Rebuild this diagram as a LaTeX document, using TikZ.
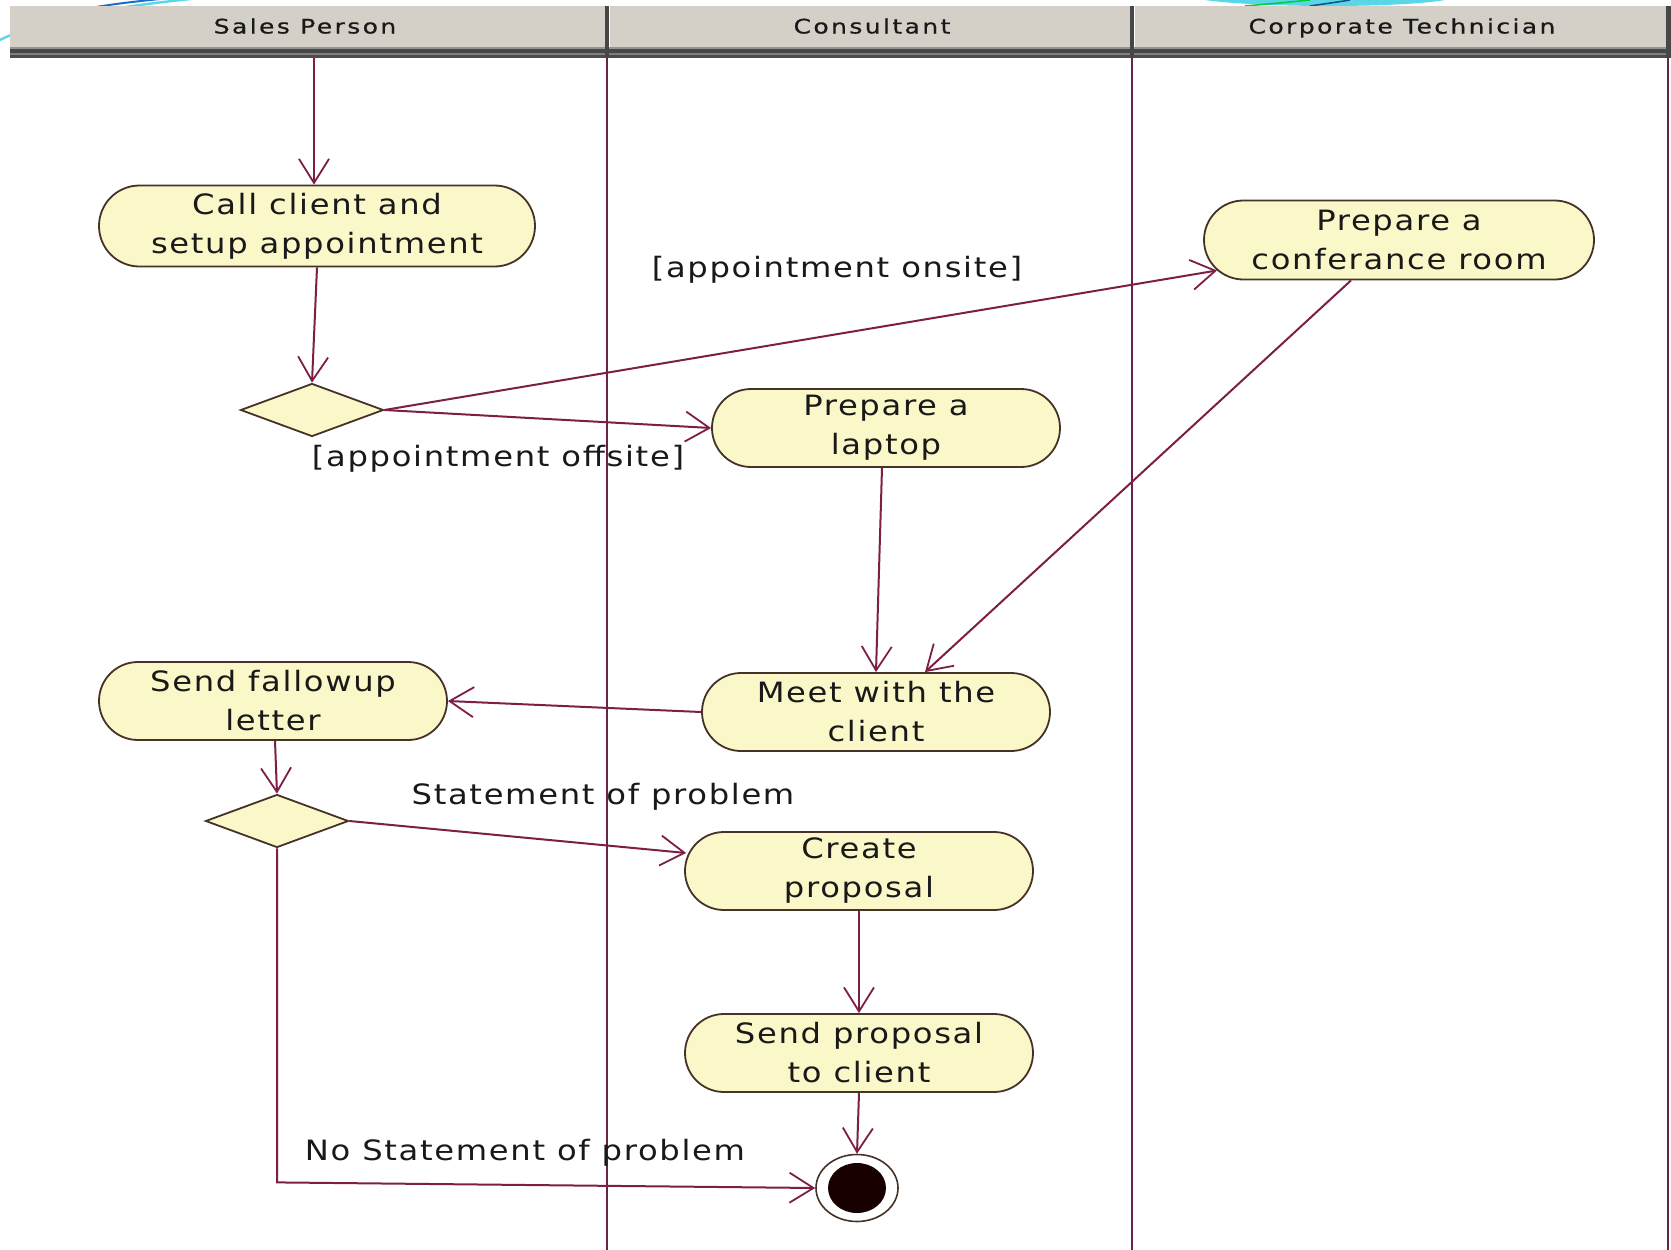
\documentclass[tikz,border=0pt]{standalone}
\usepackage{fontspec}
\usetikzlibrary{shapes.misc,shapes.geometric,arrows.meta,calc}
\newfontfamily\actfont{DejaVu Sans}[FakeStretch=1.15,LetterSpace=6]
\newfontfamily\lanefont{DejaVu Sans}[FakeStretch=1.25,LetterSpace=12,FakeBold=0.6]
\definecolor{lanecol}{RGB}{105,35,70}
\definecolor{flowcol}{RGB}{125,30,70}
\definecolor{nodeedge}{RGB}{70,50,40}
\definecolor{actfill}{RGB}{250,248,200}
\definecolor{textcol}{RGB}{25,25,25}
\definecolor{headgray}{RGB}{212,208,200}
\definecolor{decocyan}{RGB}{90,215,230}
\definecolor{decoblue}{RGB}{30,110,200}
\begin{document}
\begin{tikzpicture}[x=1pt,y=-1pt,
  activity/.style={rounded rectangle, draw=nodeedge, line width=1.8pt, fill=actfill,
    minimum width=348pt, minimum height=78pt, inner sep=0pt, align=center,
    font=\actfont\fontsize{28}{39}\selectfont, text=textcol},
  decision/.style={diamond, draw=nodeedge, line width=1.8pt, fill=actfill,
    minimum width=143pt, minimum height=53pt, inner sep=0pt},
  flow/.style={draw=flowcol, line width=2pt,
    -{Straight Barb[length=24pt,width=30pt,line width=1.8pt]}},
  guard/.style={font=\actfont\fontsize{28}{39}\selectfont, text=textcol, inner sep=0pt},
  lane/.style={draw=lanecol, line width=2.4pt},
  lanetitle/.style={font=\lanefont\fontsize{20}{24}\selectfont, text=textcol, inner sep=0pt,
    text height=15pt, text depth=4pt}]

\useasboundingbox (0,0) rectangle (1671,1250);
\fill[white] (0,0) rectangle (1671,1250);

% background swooshes behind the header
\draw[decocyan, line width=2.4pt] (0,40) .. controls (30,25) and (80,10) .. (200,-2);
\draw[decoblue, line width=2pt] (80,10) .. controls (105,5) and (130,2) .. (160,-1);
\fill[decocyan] (1205,0) .. controls (1260,8) and (1400,8) .. (1445,0) -- cycle;
\draw[green!60!teal, line width=1.5pt] (1245,6) .. controls (1280,3) and (1300,1) .. (1310,0);
\draw[decoblue!70!black, line width=1.5pt] (1310,6) .. controls (1330,3) and (1345,1) .. (1350,0);

% swimlane header
\fill[headgray] (10,6) rectangle (1671,47);
\fill[black!42] (10,47) rectangle (1671,49);
\fill[black!72] (10,49) rectangle (1671,53);
\fill[black!50] (10,53) rectangle (1671,55);
\fill[black!70] (10,55) rectangle (1671,58);
\foreach \xx in {607,1132} {
  \fill[black!72] (\xx-2.5,6) rectangle (\xx+1.5,58);
  \fill[white] (\xx+1.5,6) rectangle (\xx+3,47);
}
\fill[black!72] (1666,6) rectangle (1671,58);

\node[lanetitle] (t1) at (305,28) {Sales Person};
\node[lanetitle] (t2) at (872,28) {Consultant};
\node[lanetitle] (t3) at (1402,28) {Corporate Technician};

% lane separators
\draw[lane] (607,58) -- (607,1250);
\draw[lane] (1132,58) -- (1132,1250);
\draw[lane] (1668,58) -- (1668,1250);

% activities
\node[activity, minimum width=436pt, minimum height=81pt] (call) at (317,226) {Call client and\\setup appointment};
\node[decision] (d1) at (312,410) {};
\node[activity, minimum width=390pt, minimum height=79pt] (room) at (1399,240) {Prepare a\\conferance room};
\node[activity] (laptop) at (886,428) {Prepare a\\laptop};
\node[activity] (meet) at (876,712) {Meet with the\\client};
\node[activity] (letter) at (273,701) {Send fallowup\\letter};
\node[decision] (d2) at (277,821) {};
\node[activity] (create) at (859,871) {Create\\proposal};
\node[activity] (send) at (859,1053) {Send proposal\\to client};

% final state
\node[ellipse, draw=nodeedge, line width=1.6pt, fill=white, minimum width=82pt, minimum height=67pt, inner sep=0pt] (fin) at (857,1188) {};
\fill[black!90!red] (fin.center) ellipse [x radius=29, y radius=25];

\coordinate (start) at (314,58);

% control flows
\draw[flow] (start) -- (start |- call.north);
\draw[flow] (call.south) -- (d1.north);
\draw[flow] (d1.east) -- (room);
\draw[flow] (d1.east) -- (laptop.west);
\draw[flow] ($(room.south)+(-48,0)$) -- ($(meet.north)+(49,0)$);
\draw[flow] ($(laptop.south)+(-4,0)$) -- (meet.north);
\draw[flow] (meet.west) -- (letter.east);
\draw[flow] ($(letter.south)+(2,0)$) -- (d2.north);
\draw[flow] (d2.east) -- ($(create.west)+(2,-18)$);
\draw[flow] (d2.south) -- ++(0,334) -- (fin.west);
\draw[flow] (create.south) -- (send.north);
\draw[flow] (send.south) -- (fin.north);

% guards
\node[guard] (g1) at (837,270) {[appointment onsite]};
\node[guard] (g2) at (498,459) {[appointment offsite]};
\node[guard] (g3) at (603,797) {Statement of problem};
\node[guard] (g4) at (525,1153) {No Statement of problem};
\end{tikzpicture}
\end{document}
